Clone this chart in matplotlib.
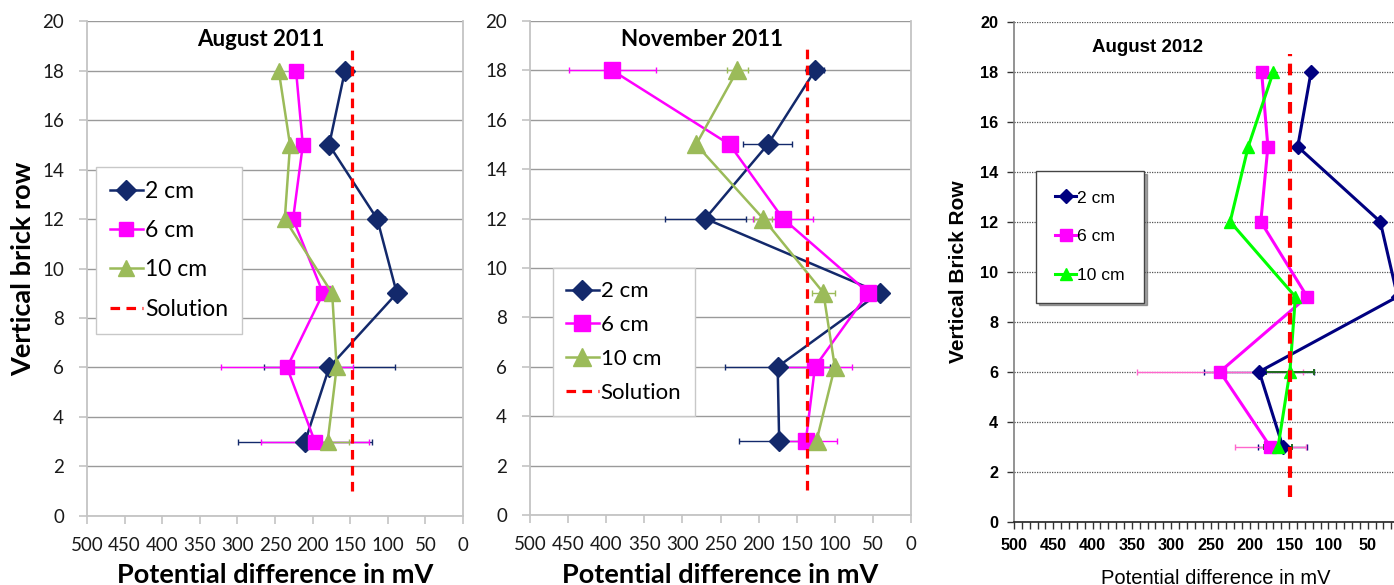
import numpy as np
import matplotlib
matplotlib.use("Agg")
import matplotlib.pyplot as plt
from matplotlib.ticker import MultipleLocator

# ---------------- data ----------------
rows = [18, 15, 12, 9, 6, 3]
series_labels = ["2 cm", "6 cm", "10 cm"]
titles = ["August 2011", "November 2011", "August 2012"]

# August 2011
aug11_2cm = [157, 178, 114, 88, 178, 210]
aug11_2cm_err = [0, 0, 10, 0, 87, 89]
aug11_6cm = [222, 213, 226, 186, 234, 197]
aug11_6cm_err = [0, 0, 0, 0, 88, 72]
aug11_10cm = [245, 230, 237, 174, 168, 180]
aug11_10cm_err = [0, 0, 0, 0, 0, 28]
aug11_solution = 148

# November 2011
nov11_2cm = [126, 188, 270, 41, 175, 173]
nov11_2cm_err = [12, 32, 53, 0, 69, 53]
nov11_6cm = [392, 238, 168, 56, 126, 138]
nov11_6cm_err = [57, 0, 39, 0, 48, 41]
nov11_10cm = [228, 282, 194, 115, 100, 124]
nov11_10cm_err = [14, 0, 12, 15, 0, 0]
nov11_solution = 137

# August 2012
aug12_2cm = [122, 139, 34, 12, 188, 158]
aug12_2cm_err = [0, 0, 0, 0, 70, 31]
aug12_6cm = [185, 177, 186, 127, 238, 174]
aug12_6cm_err = [0, 0, 0, 0, 106, 45]
aug12_10cm = [170, 202, 225, 142, 149, 164]
aug12_10cm_err = [0, 0, 0, 0, 31, 18]
aug12_solution = 149

solution_rows = [1, 19]
solution_rows_2012 = [1, 18.7]
x_ticks = [500, 450, 400, 350, 300, 250, 200, 150, 100, 50, 0]
y_ticks = [0, 2, 4, 6, 8, 10, 12, 14, 16, 18, 20]

# ---------------- figure ----------------
W, H = 1394, 585
fig = plt.figure(figsize=(W / 100, H / 100), dpi=100)


def rect(l, r, t, b):
    return [l / W, 1 - b / H, (r - l) / W, (b - t) / H]


def fx(x):
    return x / W


def fy(y):
    return 1 - y / H


def draw_series(ax, vals, errs, color, marker, ms, lw, ecolor, label, ewidth=1.0):
    ax.plot(vals, rows, color=color, marker=marker, markersize=ms, lw=lw,
            label=label, zorder=4, markeredgecolor=color)
    v = np.array(vals, float)
    e = np.array(errs, float)
    r = np.array(rows, float)
    m = e > 0
    if m.any():
        ax.errorbar(v[m], r[m], xerr=e[m], fmt="none", ecolor=ecolor,
                    elinewidth=ewidth, capsize=2.5, capthick=ewidth, zorder=3)


calibri = ["Lato", "DejaVu Sans"]
arial = ["Liberation Sans", "DejaVu Sans"]

navy = "#13296B"
magenta = "#FF00FF"
olive = "#9BBB59"
grid_gray = "#9A9A9A"
spine_gray = "#C4C4C4"

# -------- panel 1 & 2 (Excel 2007 style) --------
panels12 = [
    dict(rc=rect(87, 463, 21.4, 515.7), s2=aug11_2cm, e2=aug11_2cm_err,
         s6=aug11_6cm, e6=aug11_6cm_err, s10=aug11_10cm, e10=aug11_10cm_err,
         sol=aug11_solution, title=titles[0], tpos=(261, 40),
         lpos=(96, 167), lfs=16.5, lsp=0.8, ms=(10, 10, 12)),
    dict(rc=rect(530, 911, 21, 515), s2=nov11_2cm, e2=nov11_2cm_err,
         s6=nov11_6cm, e6=nov11_6cm_err, s10=nov11_10cm, e10=nov11_10cm_err,
         sol=nov11_solution, title=titles[1], tpos=(702, 40),
         lpos=(553, 268), lfs=16, lsp=0.62, ms=(10, 12, 13)),
]

for i, p in enumerate(panels12):
    ax = fig.add_axes(p["rc"])
    ax.set_xlim(500, 0)
    ax.set_ylim(0, 20)
    ax.set_xticks(x_ticks)
    ax.set_yticks(y_ticks)
    ax.spines["top"].set_visible(False)
    for sp in ["left", "right", "bottom"]:
        ax.spines[sp].set_color(spine_gray)
        ax.spines[sp].set_linewidth(1.3)
    ax.grid(axis="y", color=grid_gray, lw=1.0)
    ax.set_axisbelow(True)
    ax.tick_params(axis="both", colors=spine_gray, length=6, width=1.2,
                   labelcolor="#1a1a1a", labelsize=13.5)
    ax.tick_params(axis="x", pad=9)
    ax.tick_params(axis="y", pad=10.5)
    for lab in ax.get_xticklabels() + ax.get_yticklabels():
        lab.set_family(calibri)

    msD, msS, msT = p["ms"]
    draw_series(ax, p["s2"], p["e2"], navy, "D", msD, 1.8, navy, series_labels[0])
    draw_series(ax, p["s6"], p["e6"], magenta, "s", msS, 1.8, magenta, series_labels[1])
    draw_series(ax, p["s10"], p["e10"], olive, "^", msT, 1.8, olive, series_labels[2])
    ax.plot([p["sol"], p["sol"]], solution_rows, color="#FF0000", lw=2.3,
            linestyle=(0, (3, 2)), label="Solution", zorder=6)

    fig.text(fx(p["tpos"][0]), fy(p["tpos"][1]), p["title"], ha="center",
             va="center", fontsize=16, fontweight="bold", family=calibri)
    rc = p["rc"]
    cx = rc[0] + rc[2] / 2
    fig.text(cx, fy(575), "Potential difference in mV", ha="center",
             va="center", fontsize=19.5, fontweight="bold", family=calibri)
    if i == 0:
        fig.text(fx(23), fy(269), "Vertical brick row", ha="center",
                 va="center", rotation=90, fontsize=19.5, fontweight="bold",
                 family=calibri)

    leg = ax.legend(loc="upper left",
                    bbox_to_anchor=(fx(p["lpos"][0]), fy(p["lpos"][1])),
                    bbox_transform=fig.transFigure, borderaxespad=0,
                    prop={"family": calibri, "size": p["lfs"]}, frameon=True,
                    fancybox=False, handlelength=1.45, handletextpad=0.1,
                    labelspacing=p["lsp"], borderpad=0.6, framealpha=1.0)
    leg.get_frame().set_edgecolor("#C8C8C8")
    leg.get_frame().set_linewidth(1.0)

# -------- panel 3 (Excel 2003 style) --------
ax = fig.add_axes(rect(1014, 1407, 21.7, 521.7))
ax.set_xlim(500, 0)
ax.set_ylim(0, 20)
ax.set_xticks(x_ticks[:-1])
ax.set_yticks(y_ticks)
ax.xaxis.set_minor_locator(MultipleLocator(10))
for sp in ["top", "right"]:
    ax.spines[sp].set_visible(False)
ax.spines["left"].set_color("#808080")
ax.spines["bottom"].set_color("#222222")
ax.spines["left"].set_linewidth(1.2)
ax.spines["bottom"].set_linewidth(1.2)
ax.grid(axis="y", color="#555555", lw=0.9, linestyle=(0, (1, 1)))
ax.set_axisbelow(True)
ax.tick_params(axis="both", which="major", length=5, width=1.0,
               colors="#333333", labelcolor="black", labelsize=11.7)
ax.tick_params(axis="x", which="minor", length=5, width=1.0, colors="#333333")
ax.tick_params(axis="x", pad=7)
ax.tick_params(axis="y", pad=6.5)
for lab in ax.get_xticklabels() + ax.get_yticklabels():
    lab.set_family(arial)
    lab.set_fontweight("bold")

navy3 = "#000080"
magenta3 = "#FF00FF"
green3 = "#00FF00"
draw_series(ax, aug12_2cm, aug12_2cm_err, navy3, "D", 7, 2.2, navy3, series_labels[0])
draw_series(ax, aug12_6cm, aug12_6cm_err, magenta3, "s", 8.5, 2.2, "#FF66CC", series_labels[1])
draw_series(ax, aug12_10cm, aug12_10cm_err, green3, "^", 9, 2.2, "#1E6B1E", series_labels[2], ewidth=1.4)
ax.plot([aug12_solution, aug12_solution], solution_rows_2012, color="#FF0000", lw=3.0,
        linestyle=(0, (2.8, 1.8)), zorder=6)

fig.text(fx(1148), fy(48), titles[2], ha="center", va="center",
         fontsize=13.5, fontweight="bold", family=arial)
fig.text(fx(958), fy(272), "Vertical Brick Row", ha="center", va="center",
         rotation=90, fontsize=15, fontweight="bold", family=arial)
fig.text(fx(1216), fy(578), "Potential difference in mV", ha="center",
         va="center", fontsize=14.5, family=arial)

leg3 = ax.legend(loc="upper left", bbox_to_anchor=(fx(1036), fy(171)),
                 bbox_transform=fig.transFigure, borderaxespad=0,
                 prop={"family": arial, "size": 12.6}, frameon=True,
                 fancybox=False, shadow=True, handlelength=1.2,
                 handletextpad=0.05, labelspacing=1.35, borderpad=1.1,
                 framealpha=1.0)
leg3.get_frame().set_edgecolor("#444444")
leg3.get_frame().set_linewidth(1.0)

fig.savefig("out.png", dpi=100)
